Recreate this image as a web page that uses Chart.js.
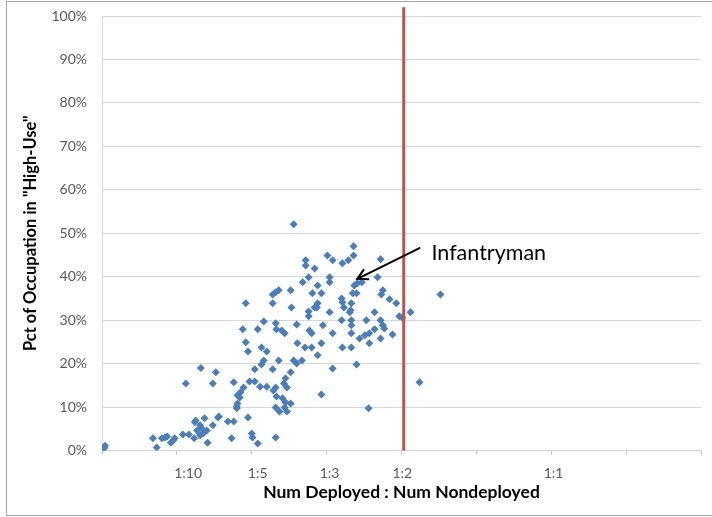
<!DOCTYPE html>
<html>
<head>
<meta charset="utf-8">
<script src="https://cdn.jsdelivr.net/npm/chart.js@4"></script>
<style>
  body { margin: 0; background: #fff; }
  #frame { position: absolute; left: 6px; top: 1px; width: 705px; height: 513px; border: 1px solid #a6a6a6; border-right: none; }
  canvas { display: block; }
</style>
</head>
<body>
<div id="frame"><canvas id="chart" width="705" height="513"></canvas></div>
<script>
// x = place on the deployed : nondeployed axis (0..8), y = pct of occupation in "High-Use"
const ratioPos = [
  // far left
  0.01, 0.00, 0.03, 0.04,
  // around 1:10
  0.68, 0.73, 0.80, 0.84, 0.87, 0.92, 0.95, 0.97, 1.08, 1.16, 1.23, 1.27, 1.24, 1.25, 1.31, 1.35,
  1.37, 1.41, 1.48, 1.56, 1.68, 1.73, 1.76, 1.12, 1.32, 1.48, 1.52, 1.76, 1.81, 1.80, 1.31, 1.33,
  1.40, 1.55, 2.00, 2.01, 2.08, 2.32, 1.95,
  // around 1:5
  1.92, 2.28, 2.28, 2.32, 2.53, 2.16, 1.88, 2.08, 2.32, 2.33, 2.40, 2.44, 2.60, 1.92, 1.95, 2.13,
  2.20, 2.61, 2.16, 2.13, 2.04, 2.36, 2.28, 2.56, 2.60, 2.52, 2.45, 2.43, 2.47, 1.97, 2.04, 2.11,
  2.20, 2.32, 2.29, 1.89, 1.85, 1.84, 1.81, 1.80, 2.33, 2.41, 2.45, 2.44, 2.32, 2.37, 2.47, 2.52,
  2.36, 2.52, 2.56, 2.76, 2.76, 2.88, 2.87,
  // around 1:3
  3.36, 3.01, 3.08, 3.21, 3.29, 3.36, 2.72, 2.72, 2.84, 2.68, 2.76, 3.04, 3.04, 2.88, 3.37, 3.41,
  3.47, 2.81, 2.93, 3.35, 3.20, 3.21, 2.84, 3.33, 3.04, 3.31, 3.53, 3.20, 3.33, 3.33, 2.95, 2.77,
  2.80, 3.08, 3.33, 3.57, 3.44, 3.51, 2.93, 3.57, 2.71, 2.80, 3.21, 3.33, 2.88, 2.67, 3.08, 3.40,
  2.93, 3.56, 3.23, 3.32, 3.40,
  // around 1:2
  3.72, 3.68, 3.75, 3.73, 3.84, 3.93, 4.52, 4.12, 3.97, 4.01, 3.64, 3.72, 3.75, 3.77, 3.88, 3.64,
  3.72, 4.24
];
const pctHighUse = [
  0.0, 0.3, 0.6, 1.1,
  2.8, 0.7, 2.8, 3.0, 3.2, 1.8, 2.3, 2.8, 3.7, 3.7, 2.8, 4.6, 6.5, 6.9, 5.8, 3.9,
  7.4, 1.8, 5.8, 7.8, 6.7, 2.8, 6.7, 15.4, 19.0, 15.4, 18.0, 15.7, 12.7, 10.1, 3.5, 5.1,
  4.6, 7.6, 3.9, 3.0, 1.6, 3.0, 7.6,
  33.9, 35.9, 33.9, 36.4, 32.9, 29.7, 27.9, 27.9, 29.3, 27.9, 27.6, 27.0, 29.0, 24.9, 22.8, 23.7,
  22.8, 24.7, 20.7, 19.8, 18.7, 20.7, 18.7, 20.7, 20.0, 18.0, 16.6, 15.4, 14.5, 15.9, 15.9, 14.7,
  14.7, 14.5, 13.8, 14.5, 13.4, 12.2, 10.8, 9.7, 12.4, 12.0, 11.1, 9.9, 9.9, 9.0, 9.0, 10.8,
  36.9, 36.9, 52.1, 32.0, 30.9, 33.9, 32.9,
  47.0, 44.9, 43.8, 43.1, 43.8, 44.9, 43.8, 42.6, 41.9, 38.7, 39.9, 39.9, 38.7, 38.0, 38.0, 38.5,
  38.7, 36.2, 36.2, 36.2, 35.0, 34.1, 32.9, 33.9, 31.8, 31.8, 30.0, 30.0, 30.0, 28.8, 28.8, 27.6,
  27.0, 27.0, 27.0, 27.0, 25.8, 26.5, 24.7, 24.7, 23.7, 23.7, 23.7, 23.7, 21.9, 20.7, 18.9, 19.8,
  12.9, 9.7, 32.9, 32.3, 36.2,
  44.0, 39.9, 36.9, 35.9, 34.8, 33.9, 35.9, 31.8, 30.9, 30.6, 31.8, 30.0, 28.8, 28.1, 26.7, 27.9,
  25.8, 15.7
];

// tick labels and where they sit on the x axis
const ratioTickLabels = ["1:10", "1:5", "1:3", "1:2", "1:1"];
const ratioTickPos = [1.15, 2.08, 3.04, 4.01, 6.03];
const ratioMarks = [0, 1, 2, 3, 4, 5, 6, 7, 8];

// the 1:2 cut-off line
const cutoffRatio = 4.03;
const cutoffTop = 102;

// callout
const calloutText = "Infantryman";
const calloutFrom = [4.24, 46.6];
const calloutTo = [3.41, 39.5];
const calloutTextAt = [4.40, 45.4];

const FONT = "Lato";

const calloutPlugin = {
  id: "callout",
  afterDatasetsDraw(chart) {
    const { ctx } = chart;
    const x = chart.scales.x;
    const y = chart.scales.y;
    const x1 = x.getPixelForValue(calloutFrom[0]);
    const y1 = y.getPixelForValue(calloutFrom[1]);
    const x2 = x.getPixelForValue(calloutTo[0]);
    const y2 = y.getPixelForValue(calloutTo[1]);
    const ang = Math.atan2(y2 - y1, x2 - x1);
    const head = 11;

    ctx.save();
    ctx.strokeStyle = "#000";
    ctx.lineWidth = 2;
    ctx.lineCap = "round";
    ctx.beginPath();
    ctx.moveTo(x1, y1);
    ctx.lineTo(x2, y2);
    ctx.stroke();
    ctx.beginPath();
    ctx.moveTo(x2 - head * Math.cos(ang - 0.5), y2 - head * Math.sin(ang - 0.5));
    ctx.lineTo(x2, y2);
    ctx.lineTo(x2 - head * Math.cos(ang + 0.5), y2 - head * Math.sin(ang + 0.5));
    ctx.stroke();

    ctx.fillStyle = "#000";
    ctx.font = "21.5px " + FONT;
    ctx.textBaseline = "middle";
    ctx.fillText(
      calloutText,
      x.getPixelForValue(calloutTextAt[0]),
      y.getPixelForValue(calloutTextAt[1])
    );
    ctx.restore();
  },
};

new Chart("chart", {
  type: "scatter",
  data: {
    datasets: [
      {
        data: [
          { x: cutoffRatio, y: 0 },
          { x: cutoffRatio, y: cutoffTop },
        ],
        showLine: true,
        borderColor: "#c0504d",
        borderWidth: 3,
        pointRadius: 0,
        clip: false,
      },
      {
        data: ratioPos.map((v, i) => ({ x: v, y: pctHighUse[i] })),
        pointStyle: "rectRot",
        pointRadius: 4,
        backgroundColor: "#4a7ebb",
        borderColor: "#4a7ebb",
        borderWidth: 0,
      },
    ],
  },
  options: {
    responsive: false,
    animation: false,
    layout: { padding: { top: 14, right: 8, left: 0, bottom: 0 } },
    plugins: {
      legend: { display: false },
      tooltip: { enabled: false },
    },
    scales: {
      x: {
        type: "linear",
        min: 0,
        max: 8,
        afterBuildTicks: (s) => {
          s.ticks = [...ratioMarks, ...ratioTickPos]
            .sort((a, b) => a - b)
            .map((v) => ({ value: v }));
        },
        afterFit: (s) => {
          s.height = 64.5;
        },
        ticks: {
          autoSkip: false,
          maxRotation: 0,
          padding: 11,
          color: "#595959",
          font: { family: FONT, size: 14 },
          callback: (v) => {
            const i = ratioTickPos.indexOf(v);
            return i < 0 ? "" : ratioTickLabels[i];
          },
        },
        grid: {
          drawOnChartArea: false,
          tickLength: 4,
          tickColor: (c) =>
            c.tick && Number.isInteger(c.tick.value) ? "#c8c8c8" : "rgba(0,0,0,0)",
        },
        border: { color: "#d4d4d4" },
        title: {
          display: true,
          text: "Num Deployed : Num Nondeployed",
          color: "#000",
          font: { family: FONT, size: 17.5, weight: "bold" },
          padding: { top: 0, bottom: 12 },
        },
      },
      y: {
        min: 0,
        max: 100,
        afterFit: (s) => {
          s.width = 95;
          s.paddingTop = 0;
        },
        ticks: {
          stepSize: 10,
          padding: 15,
          color: "#595959",
          font: { family: FONT, size: 14 },
          callback: (v) => v + "%",
        },
        grid: { color: "#d6d6d6", drawTicks: false },
        border: { color: "#d6d6d6" },
        title: {
          display: true,
          text: 'Pct of Occupation in "High-Use"',
          color: "#000",
          font: { family: FONT, size: 16.5, weight: "bold" },
          padding: { top: 14, bottom: 0 },
        },
      },
    },
  },
  plugins: [calloutPlugin],
});
</script>
</body>
</html>
